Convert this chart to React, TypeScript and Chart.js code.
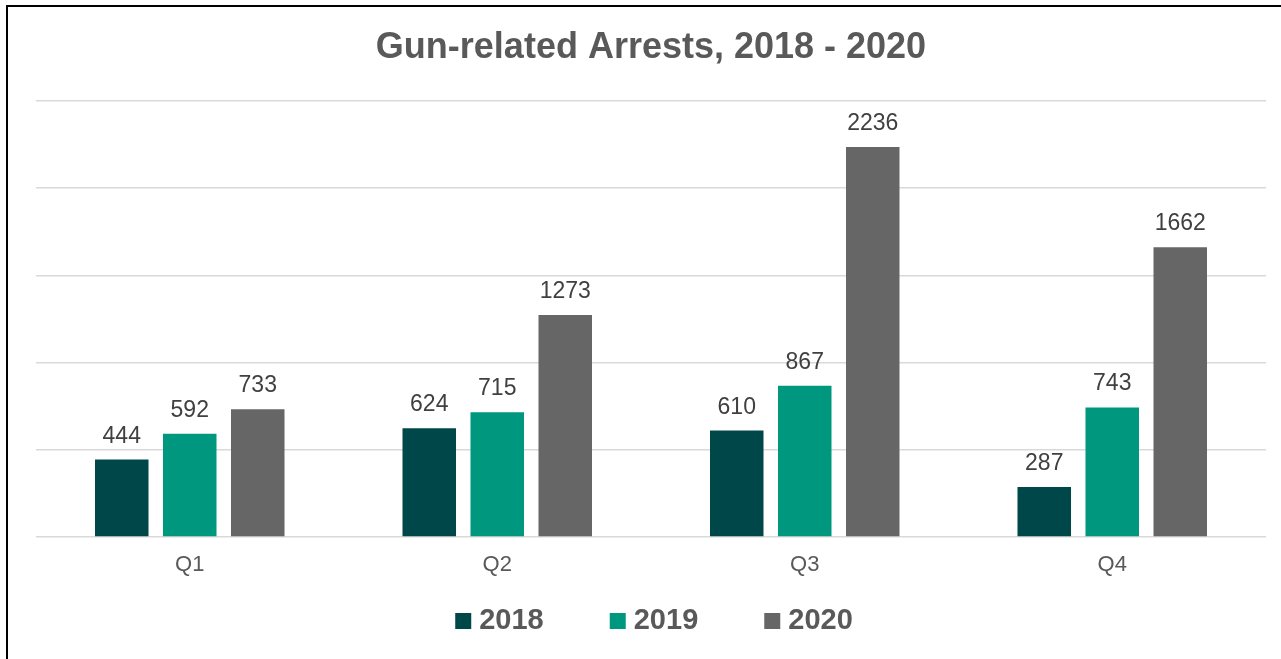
import React, { useEffect, useRef } from "react";
import { Chart, registerables } from "chart.js";

Chart.register(...registerables);

const categories = ["Q1", "Q2", "Q3", "Q4"];
const seriesNames = ["2018", "2019", "2020"];
const values2018 = [444, 624, 610, 287];
const values2019 = [592, 715, 867, 743];
const values2020 = [733, 1273, 2236, 1662];
const seriesColors = ["#00474a", "#00977f", "#666666"];
const yMax = 2500;
const yStep = 500;
const titleText = "Gun-related Arrests, 2018 - 2020";

const FONT = '"Liberation Sans", Arial, sans-serif';

const dataLabelPlugin = {
  id: "dataLabels",
  afterDatasetsDraw(chart: any) {
    const ctx = chart.ctx;
    ctx.save();
    ctx.font = `23px ${FONT}`;
    ctx.fillStyle = "#404040";
    ctx.textAlign = "center";
    ctx.textBaseline = "alphabetic";
    chart.data.datasets.forEach((ds: any, i: number) => {
      const meta = chart.getDatasetMeta(i);
      meta.data.forEach((el: any, j: number) => {
        ctx.fillText(String(ds.data[j]), el.x, el.y - 17);
      });
    });
    ctx.restore();
  },
};

const customLegendPlugin = {
  id: "customLegend",
  afterDraw(chart: any) {
    const ctx = chart.ctx;
    const area = chart.chartArea;
    const box = 16;
    const gapBoxText = 8;
    const itemGap = 66;
    ctx.save();
    ctx.font = `bold 29px ${FONT}`;
    const items = chart.data.datasets.map((ds: any) => ({
      text: ds.label,
      color: ds.backgroundColor,
      w: box + gapBoxText + ctx.measureText(ds.label).width,
    }));
    const total =
      items.reduce((s: number, it: any) => s + it.w, 0) + itemGap * (items.length - 1);
    let x = (area.left + area.right) / 2 + 3 - total / 2;
    const cy = 614;
    items.forEach((it: any) => {
      ctx.fillStyle = it.color;
      ctx.fillRect(x, cy - 8, box, box);
      ctx.fillStyle = "#595959";
      ctx.textAlign = "left";
      ctx.textBaseline = "middle";
      ctx.fillText(it.text, x + box + gapBoxText, cy);
      x += it.w + itemGap;
    });
    ctx.restore();
  },
};

export default function App() {
  const canvasRef = useRef<HTMLCanvasElement | null>(null);

  useEffect(() => {
    if (!canvasRef.current) return;
    const chart = new Chart(canvasRef.current, {
      type: "bar",
      data: {
        labels: categories,
        datasets: [values2018, values2019, values2020].map((vals, i) => ({
          label: seriesNames[i],
          data: vals,
          backgroundColor: seriesColors[i],
          borderWidth: 0,
          categoryPercentage: 0.6634,
          barPercentage: 0.787,
        })),
      },
      options: {
        responsive: false,
        animation: false,
        layout: { padding: { left: 28, right: 15, top: 0, bottom: 65.6 } },
        plugins: {
          legend: { display: false },
          tooltip: { enabled: false },
          title: {
            display: true,
            text: titleText,
            color: "#595959",
            font: { family: FONT, size: 36, weight: "bold", lineHeight: 1.2 },
            padding: { top: 19, bottom: 31.8 },
          },
        },
        scales: {
          x: {
            grid: { display: false, drawTicks: false },
            border: { display: false },
            ticks: {
              color: "#595959",
              font: { family: FONT, size: 22, lineHeight: 1.2 },
              padding: 15,
            },
          },
          y: {
            min: 0,
            max: yMax,
            ticks: { display: false, stepSize: yStep },
            border: { display: false },
            grid: { color: "#d9d9d9", lineWidth: 1.5, drawTicks: false },
          },
        },
      },
      plugins: [dataLabelPlugin, customLegendPlugin],
    });
    return () => chart.destroy();
  }, []);

  return (
    <>
      <div
        style={{
          position: "fixed",
          left: 6,
          top: 5,
          width: 1400,
          height: 800,
          borderLeft: "2px solid #000",
          borderTop: "2px solid #000",
          boxSizing: "border-box",
          background: "#fff",
        }}
      />
      <div style={{ position: "fixed", left: 8, top: 7, width: 1273, height: 652 }}>
        <canvas ref={canvasRef} width={1273} height={652} style={{ display: "block" }} />
      </div>
    </>
  );
}
